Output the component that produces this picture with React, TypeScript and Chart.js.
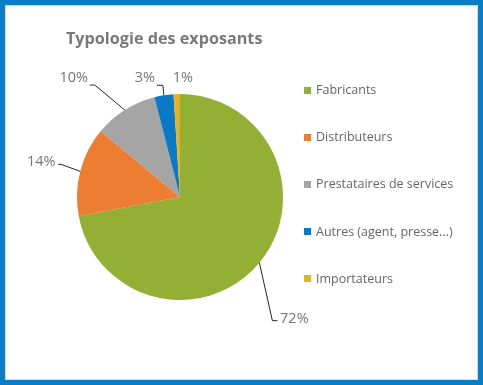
import React, { useEffect, useRef } from "react";
import { Chart, registerables } from "chart.js";

Chart.register(...registerables);

const categories = [
  "Fabricants",
  "Distributeurs",
  "Prestataires de services",
  "Autres (agent, presse...)",
  "Importateurs",
];
const shares = [72, 14, 10, 3, 1];
const sliceColors = ["#93AF34", "#ED7D31", "#A5A5A5", "#0A7AC6", "#E6B420"];
const titleText = "Typologie des exposants";

// label placement (relative to the slice's outer-edge midpoint): dx, dy of label center, leader line elbow
const labelLayout = [
  { dx: 35, dy: 56, line: true, elbow: [13, 58], end: [18, 58] },
  { dx: -39, dy: -10, line: true, elbow: [-19, -7], end: [-22, -7] },
  { dx: -51, dy: -32, line: true, elbow: [-30, -25], end: [-35, -25] },
  { dx: -19, dy: -17, line: true, elbow: [-1, -10], end: [-7, -10] },
  { dx: 6, dy: -16, line: false, elbow: [0, 0], end: [0, 0] },
];

const FONT = "'Open Sans', 'Noto Sans', sans-serif";

const framePlugin = {
  id: "frame",
  beforeDraw(chart: any) {
    const ctx = chart.ctx;
    const w = chart.width;
    const h = chart.height;
    ctx.save();
    ctx.fillStyle = "#FFFFFF";
    ctx.fillRect(0, 0, w, h);
    ctx.strokeStyle = "#0A7DC6";
    ctx.lineWidth = 5;
    ctx.strokeRect(2.5, 2.5, w - 5, h - 5);
    ctx.strokeStyle = "#D9D9D9";
    ctx.lineWidth = 1;
    ctx.strokeRect(5.5, 5.5, w - 11, h - 11);
    // title
    ctx.fillStyle = "#7A7A7A";
    ctx.font = `bold 16.2px ${FONT}`;
    ctx.textAlign = "left";
    ctx.textBaseline = "alphabetic";
    ctx.fillText(titleText, 66, 44);
    ctx.restore();
  },
};

const labelPlugin = {
  id: "outerLabels",
  afterDatasetsDraw(chart: any) {
    const ctx = chart.ctx;
    const meta = chart.getDatasetMeta(0);
    const data = chart.data.datasets[0].data as number[];
    const total = data.reduce((a, b) => a + b, 0);
    ctx.save();
    meta.data.forEach((arc: any, i: number) => {
      const mid = (arc.startAngle + arc.endAngle) / 2;
      const ex = arc.x + Math.cos(mid) * arc.outerRadius;
      const ey = arc.y + Math.sin(mid) * arc.outerRadius;
      const L = labelLayout[i];
      if (L.line) {
        ctx.strokeStyle = "#262626";
        ctx.lineWidth = 1;
        ctx.beginPath();
        ctx.moveTo(ex, ey);
        ctx.lineTo(ex + L.elbow[0], ey + L.elbow[1]);
        ctx.lineTo(ex + L.end[0], ey + L.end[1]);
        ctx.stroke();
      }
      const pct = Math.round((data[i] / total) * 100) + "%";
      ctx.fillStyle = "#767676";
      ctx.font = `14.5px ${FONT}`;
      ctx.textAlign = "center";
      ctx.textBaseline = "middle";
      ctx.fillText(pct, ex + L.dx, ey + L.dy);
    });
    // legend
    const lx = 304;
    const ly = 90;
    const gap = 47.2;
    ctx.font = `12.5px ${FONT}`;
    ctx.textAlign = "left";
    ctx.textBaseline = "middle";
    (chart.data.labels as string[]).forEach((lab: string, i: number) => {
      const y = ly + i * gap;
      ctx.fillStyle = sliceColors[i];
      ctx.fillRect(lx, Math.round(y - 3.5), 7, 7);
      ctx.fillStyle = "#666666";
      ctx.fillText(lab, lx + 12, y + 0.5);
    });
    ctx.restore();
  },
};

export default function App() {
  const ref = useRef<HTMLCanvasElement | null>(null);
  useEffect(() => {
    if (!ref.current) return;
    const chart = new Chart(ref.current, {
      type: "pie",
      data: {
        labels: categories,
        datasets: [
          {
            data: shares,
            backgroundColor: sliceColors,
            borderWidth: 0,
          },
        ],
      },
      options: {
        responsive: false,
        animation: false,
        devicePixelRatio: 1,
        layout: { padding: { left: 77, right: 200, top: 94, bottom: 85 } },
        plugins: {
          legend: { display: false },
          title: { display: false },
          tooltip: { enabled: false },
        },
      },
      plugins: [framePlugin, labelPlugin],
    });
    return () => chart.destroy();
  }, []);
  return (
    <div style={{ position: "fixed", left: 0, top: 0, width: 483, height: 385 }}>
      <canvas ref={ref} width={483} height={385} style={{ display: "block" }} />
    </div>
  );
}
